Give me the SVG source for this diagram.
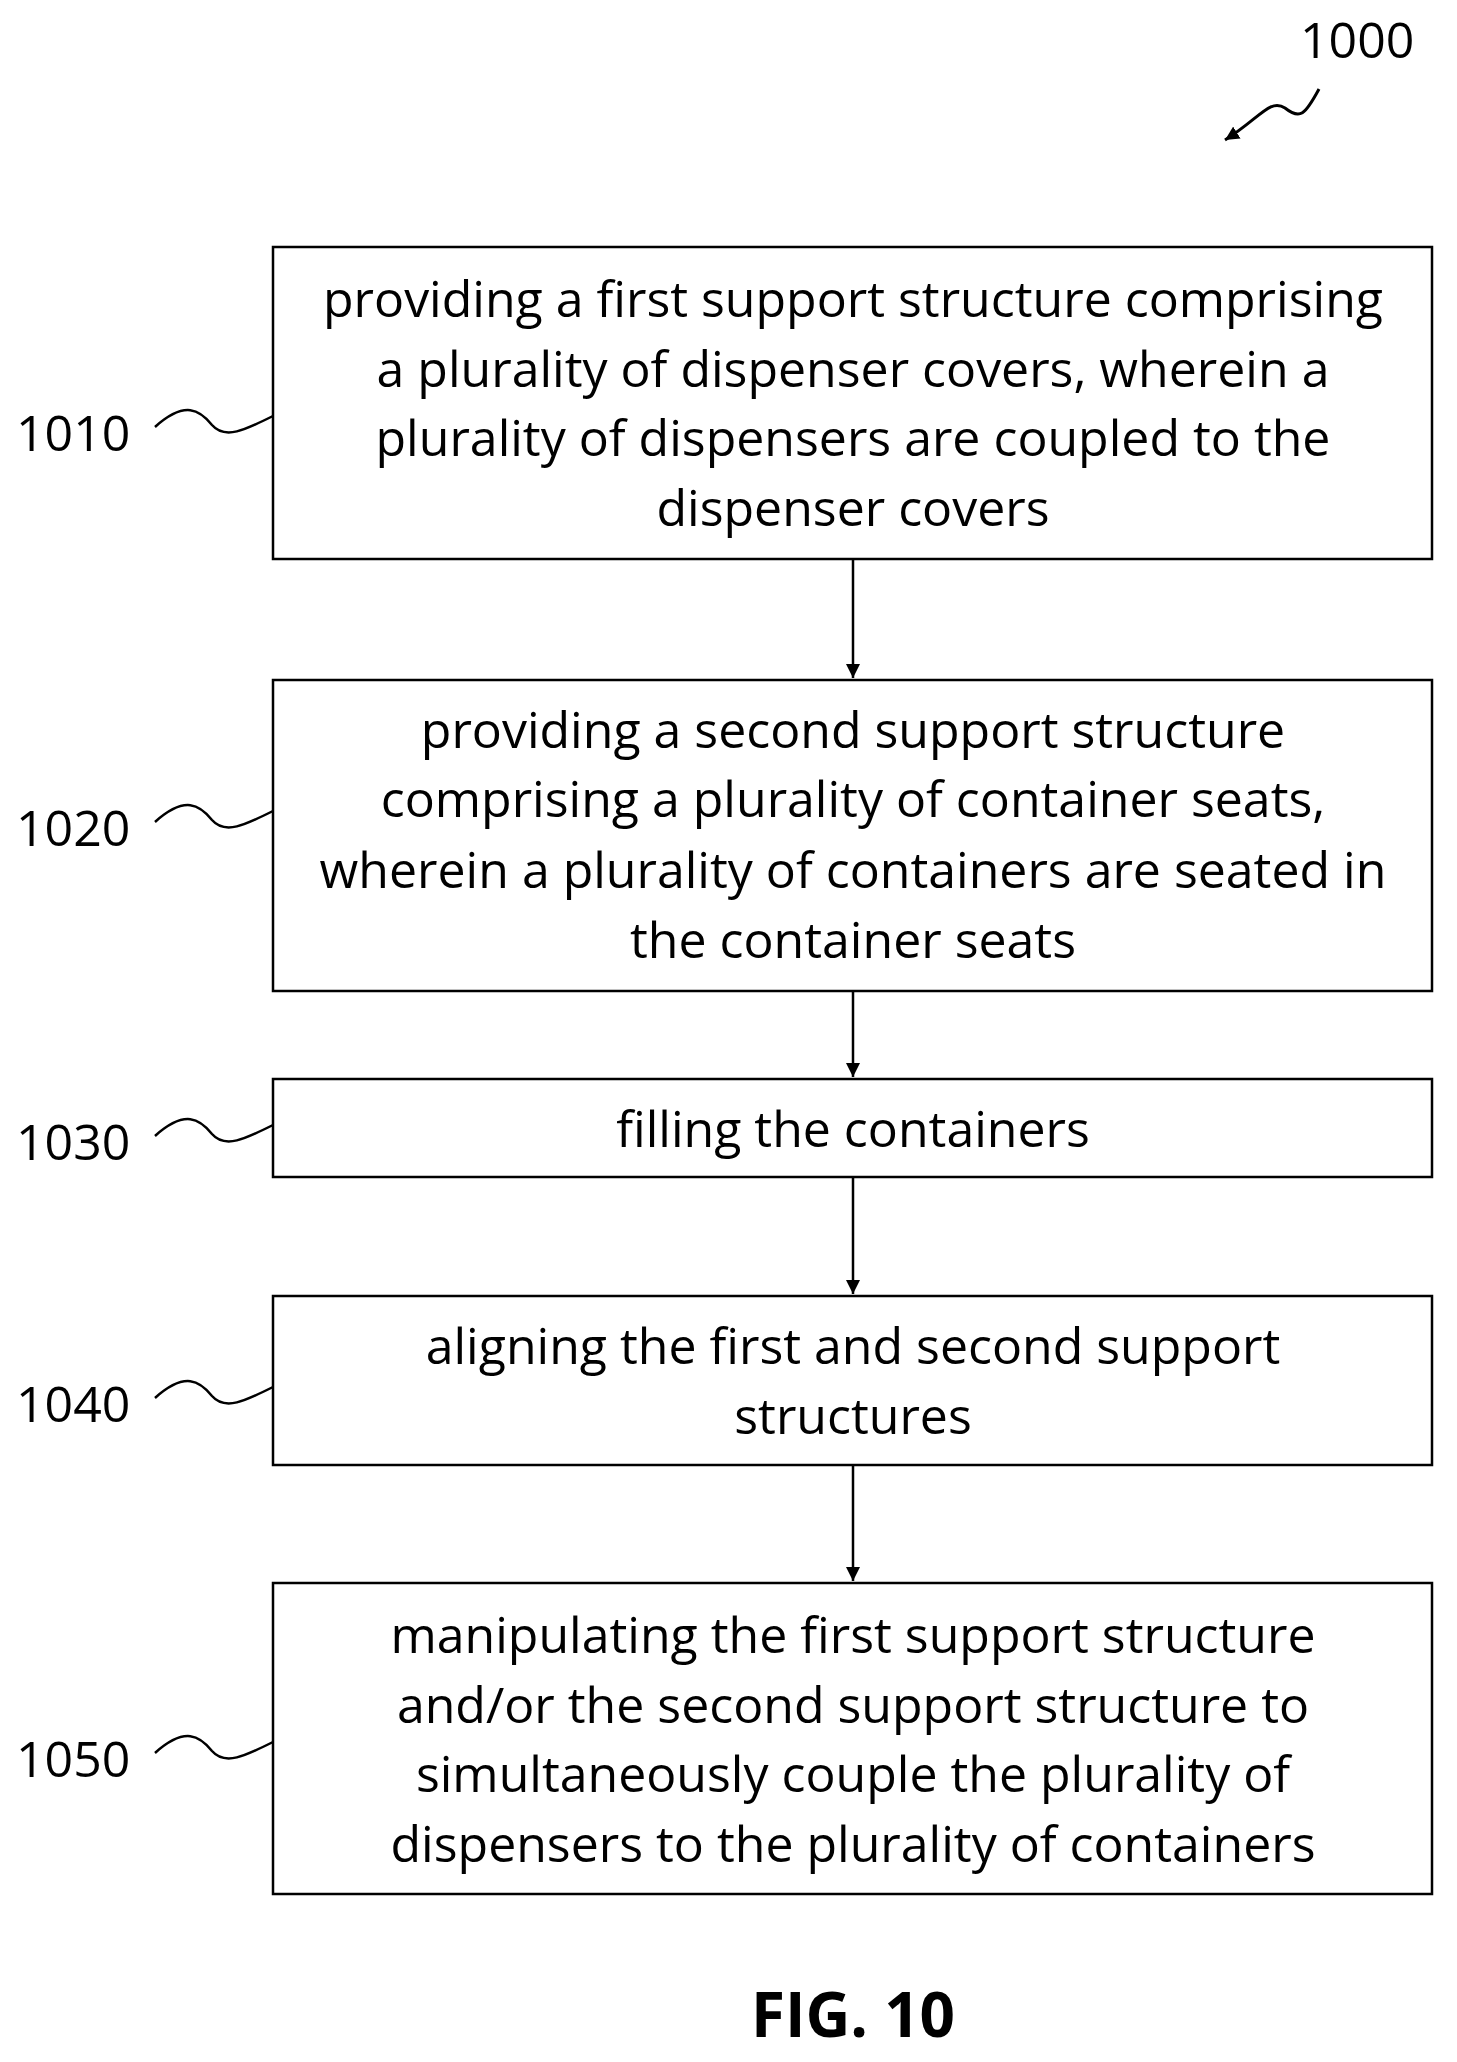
<svg xmlns="http://www.w3.org/2000/svg" width="1457" height="2062" viewBox="0 0 1457 2062">
<style>
.b{fill:#fff;stroke:#000;stroke-width:2.5}
.t{font-family:"Open Sans","Liberation Sans",sans-serif;font-size:50px;text-anchor:middle;fill:#000}
.l{font-family:"Open Sans","Liberation Sans",sans-serif;font-size:50px;fill:#000}
.c{fill:none;stroke:#000;stroke-width:2.5}
</style>
<defs><marker id="a" markerWidth="14" markerHeight="14" refX="10" refY="5" orient="auto" markerUnits="userSpaceOnUse" viewBox="0 0 10 10"><path d="M0,0 L10,5 L0,10 z" fill="#000"/></marker></defs>
<rect width="1457" height="2062" fill="#fff"/>
<g id="ref1000"><text class="l" x="1300" y="58">1000</text><path class="c" style="stroke-width:3" d="M1319,89 C1305,115 1300,120 1285,108 C1270,98 1260,118 1225,140" marker-end="url(#a)"/></g>
<g id="n1010"><rect class="b" x="273" y="247" width="1159" height="312"/>
<text class="t" x="853" y="317">providing a first support structure comprising</text>
<text class="t" x="853" y="387">a plurality of dispenser covers, wherein a</text>
<text class="t" x="853" y="456">plurality of dispensers are coupled to the</text>
<text class="t" x="853" y="526">dispenser covers</text>
<text class="l" x="16" y="451">1010</text><path class="c" d="M155,427 C185,400 200,410 212,425 C225,440 245,430 273,416"/></g>
<g id="n1020"><rect class="b" x="273" y="680" width="1159" height="311"/>
<text class="t" x="853" y="748">providing a second support structure</text>
<text class="t" x="853" y="817">comprising a plurality of container seats,</text>
<text class="t" x="853" y="888">wherein a plurality of containers are seated in</text>
<text class="t" x="853" y="958">the container seats</text>
<text class="l" x="16" y="846">1020</text><path class="c" d="M155,822 C185,795 200,805 212,820 C225,835 245,825 273,811"/></g>
<g id="n1030"><rect class="b" x="273" y="1079" width="1159" height="98"/>
<text class="t" x="853" y="1147">filling the containers</text>
<text class="l" x="16" y="1160">1030</text><path class="c" d="M155,1136 C185,1109 200,1119 212,1134 C225,1149 245,1139 273,1125"/></g>
<g id="n1040"><rect class="b" x="273" y="1296" width="1159" height="169"/>
<text class="t" x="853" y="1364">aligning the first and second support</text>
<text class="t" x="853" y="1434">structures</text>
<text class="l" x="16" y="1422">1040</text><path class="c" d="M155,1398 C185,1371 200,1381 212,1396 C225,1411 245,1401 273,1387"/></g>
<g id="n1050"><rect class="b" x="273" y="1583" width="1159" height="311"/>
<text class="t" x="853" y="1653">manipulating the first support structure</text>
<text class="t" x="853" y="1723">and/or the second support structure to</text>
<text class="t" x="853" y="1792">simultaneously couple the plurality of</text>
<text class="t" x="853" y="1862">dispensers to the plurality of containers</text>
<text class="l" x="16" y="1777">1050</text><path class="c" d="M155,1753 C185,1726 200,1736 212,1751 C225,1766 245,1756 273,1742"/></g>
<g id="connectors">
<line class="c" x1="853" y1="559" x2="853" y2="678" marker-end="url(#a)"/>
<line class="c" x1="853" y1="991" x2="853" y2="1077" marker-end="url(#a)"/>
<line class="c" x1="853" y1="1177" x2="853" y2="1294" marker-end="url(#a)"/>
<line class="c" x1="853" y1="1465" x2="853" y2="1581" marker-end="url(#a)"/>
</g>
<text x="853" y="2037" font-family="Open Sans,Liberation Sans,sans-serif" font-weight="bold" font-size="62" text-anchor="middle">FIG. 10</text>
</svg>
